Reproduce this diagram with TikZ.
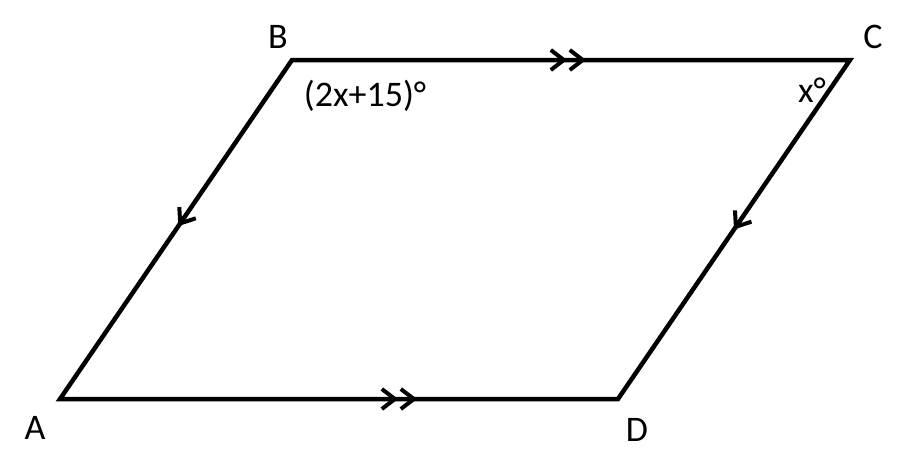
\documentclass[tikz,border=0pt]{standalone}
\usepackage{fontspec}
\setmainfont{Carlito}
\usetikzlibrary{arrows.meta,decorations.markings}
\tikzset{
  chev/.tip={Straight Barb[length=13pt,width=20pt,line width=4pt]},
  side/.style={line width=4.5pt, line join=miter},
  onemark/.style={postaction={decorate}, decoration={markings,
      mark=at position #1 with {\arrow{chev}}}},
  twomark/.style 2 args={postaction={decorate}, decoration={markings,
      mark=at position #1 with {\arrow{chev}},
      mark=at position #2 with {\arrow{chev}}}},
  vlabel/.style={font=\fontsize{36}{42}\selectfont, inner sep=0pt}
}
\begin{document}
\begin{tikzpicture}[x=1pt, y=-1pt]
  \useasboundingbox (0,0) rectangle (906,474);
  % vertices
  \coordinate (A) at (60,399);
  \coordinate (B) at (292,60);
  \coordinate (C) at (850,60);
  \coordinate (D) at (618,399);
  \draw[side] (A) -- (B) -- (C) -- (D) -- cycle;
  % parallel marks
  \path[side, twomark={0.493}{0.527}] (B) -- (C);
  \path[side, twomark={0.606}{0.640}] (A) -- (D);
  \path[side, onemark=0.49] (B) -- (A);
  \path[side, onemark=0.50] (C) -- (D);
  % labels
  \node[vlabel] (labA) at (35,428) {A};
  \node[vlabel] (labB) at (278,37) {B};
  \node[vlabel] (labC) at (873,37) {C};
  \node[vlabel] (labD) at (637,430) {D};
  \node[vlabel] (angB) at (365,96) {(2x+15)°};
  \node[vlabel] (angC) at (812,90) {x°};
\end{tikzpicture}
\end{document}
